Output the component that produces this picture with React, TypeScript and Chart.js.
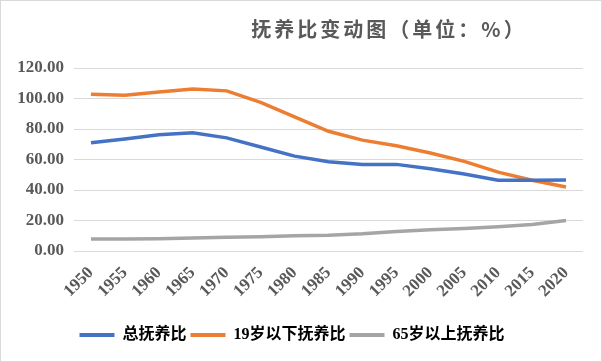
import React, { useEffect, useRef } from "react";
import { Chart, registerables } from "chart.js";

Chart.register(...registerables);

const years = ["1950", "1955", "1960", "1965", "1970", "1975", "1980", "1985", "1990", "1995", "2000", "2005", "2010", "2015", "2020"];
const totalRatio = [71.0, 73.5, 76.2, 77.6, 74.2, 68.2, 62.2, 58.5, 56.8, 56.8, 54.0, 50.5, 46.4, 46.4, 46.6];
const under19Ratio = [102.8, 102.1, 104.2, 106.3, 105.0, 97.5, 88.0, 78.5, 72.7, 69.0, 64.3, 58.8, 51.7, 46.4, 42.0];
const over65Ratio = [7.8, 7.8, 8.0, 8.5, 9.0, 9.4, 10.0, 10.3, 11.3, 12.8, 14.0, 14.8, 15.9, 17.4, 20.0];
const seriesNames = ["总抚养比", "19岁以下抚养比", "65岁以上抚养比"];
const titleText = "抚养比变动图（单位：%）";
const yMin = 0;
const yMax = 120;
const yStep = 20;

const titlePlugin = {
  id: "customTitle",
  afterDraw(chart: any) {
    const ctx = chart.ctx;
    ctx.save();
    ctx.font = "bold 20px 'Noto Sans CJK SC', sans-serif";
    ctx.fillStyle = "#595959";
    (ctx as any).letterSpacing = "3px";
    ctx.textAlign = "center";
    ctx.textBaseline = "middle";
    ctx.fillText(titleText, 388, 28);
    ctx.restore();
  },
};

const tickFont = { family: "'Liberation Serif', serif", size: 17, weight: "bold" as const };

export default function App() {
  const ref = useRef<HTMLCanvasElement | null>(null);
  useEffect(() => {
    if (!ref.current) return;
    const chart = new Chart(ref.current, {
      type: "line",
      data: {
        labels: years,
        datasets: [
          { label: seriesNames[0], data: totalRatio, borderColor: "#4472C4", backgroundColor: "#4472C4" },
          { label: seriesNames[1], data: under19Ratio, borderColor: "#ED7D31", backgroundColor: "#ED7D31" },
          { label: seriesNames[2], data: over65Ratio, borderColor: "#A5A5A5", backgroundColor: "#A5A5A5" },
        ].map((d) => ({ ...d, borderWidth: 3.5, pointRadius: 0, tension: 0, fill: false })),
      },
      options: {
        animation: false,
        responsive: false,
        maintainAspectRatio: false,
        layout: { padding: { left: 0, right: 18, top: 67, bottom: 8 } },
        scales: {
          x: {
            offset: true,
            grid: { display: false },
            border: { display: false },
            ticks: {
              minRotation: 45,
              maxRotation: 45,
              color: "#595959",
              font: tickFont,
              padding: 4,
            },
            afterFit: (s: any) => {
              s.height = 72;
            },
          },
          y: {
            min: yMin,
            max: yMax,
            grid: { color: "#D9D9D9", drawTicks: false, lineWidth: 1 },
            border: { display: false },
            ticks: {
              stepSize: yStep,
              color: "#595959",
              padding: 10,
              font: tickFont,
              callback: (v: any) => Number(v).toFixed(2),
            },
            afterFit: (s: any) => {
              s.width = 73;
            },
          },
        },
        plugins: {
          title: { display: false },
          tooltip: { enabled: false },
          legend: {
            position: "bottom",
            labels: {
              boxWidth: 35,
              boxHeight: 4,
              padding: 4,
              color: "#000000",
              font: { family: "'Liberation Serif', 'Noto Sans CJK SC', serif", size: 16, weight: "bold" },
              generateLabels: (c: any) =>
                c.data.datasets.map((ds: any, i: number) => ({
                  text: ds.label,
                  fillStyle: ds.borderColor,
                  strokeStyle: ds.borderColor,
                  lineWidth: 0,
                  hidden: false,
                  datasetIndex: i,
                  fontColor: "#000000",
                })),
            },
          },
        },
      },
      plugins: [titlePlugin],
    });
    return () => chart.destroy();
  }, []);
  return (
    <div
      style={{
        position: "fixed",
        left: 0,
        top: 0,
        width: 602,
        height: 362,
        border: "1px solid #D9D9D9",
        boxSizing: "border-box",
        background: "#fff",
      }}
    >
      <canvas ref={ref} width={600} height={360} style={{ display: "block", width: 600, height: 360 }} />
    </div>
  );
}
